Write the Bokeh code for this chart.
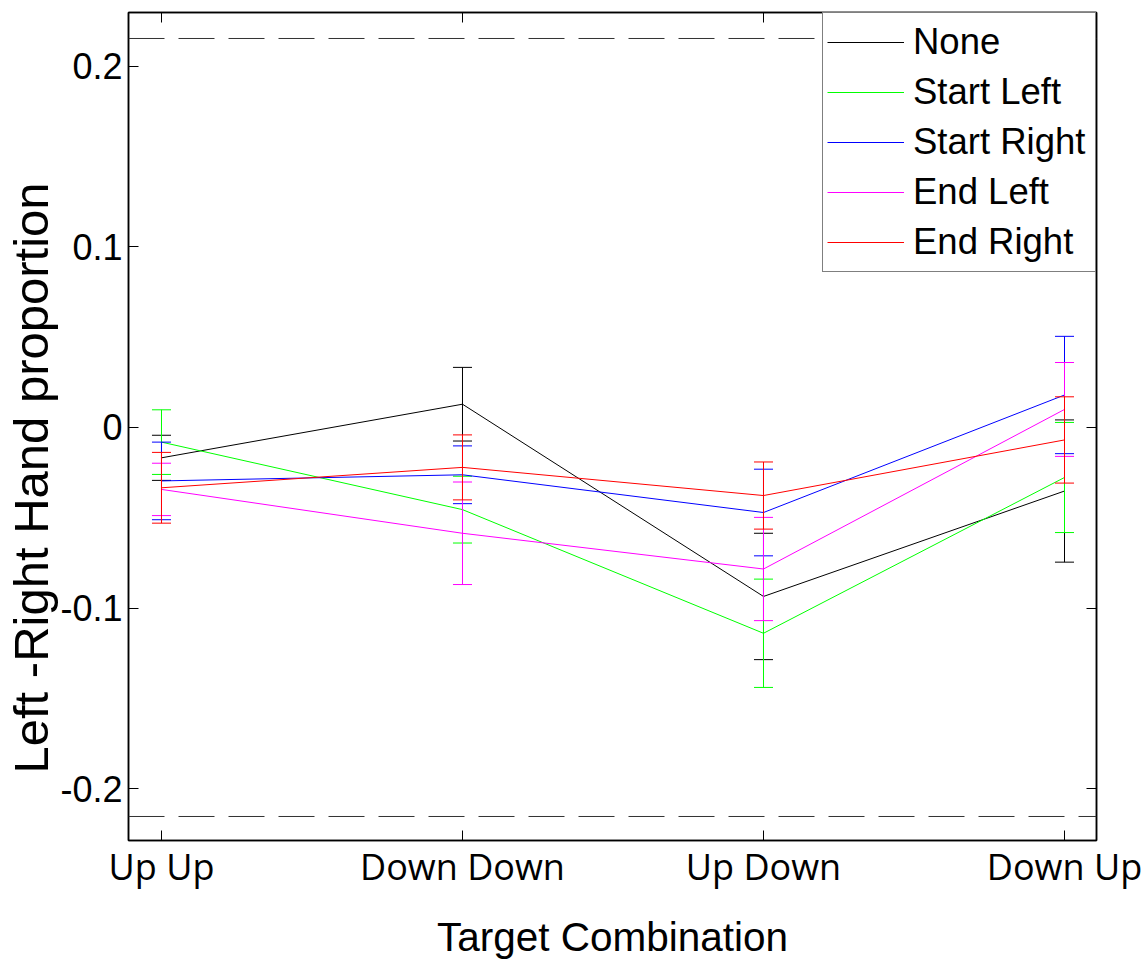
from bokeh.plotting import figure
from bokeh.models import LinearAxis, FixedTicker, Span, Range1d, Legend, LegendItem, Title
from bokeh.embed import file_html
from bokeh.resources import INLINE

categories = ["Up Up", "Down Down", "Up Down", "Down Up"]
series_names = ["None", "Start Left", "Start Right", "End Left", "End Right"]
series_colors = ["#000000", "#00ff00", "#0000ff", "#ff00ff", "#ff0000"]

none_mean = [-0.0168, 0.0129, -0.0936, -0.0352]
none_err = [0.0125, 0.0204, 0.035, 0.0394]
start_left_mean = [-0.0081, -0.0455, -0.114, -0.0277]
start_left_err = [0.0179, 0.0185, 0.030, 0.0305]
start_right_mean = [-0.0296, -0.0262, -0.0471, 0.0180]
start_right_err = [0.0215, 0.016, 0.024, 0.0325]
end_left_mean = [-0.0343, -0.0586, -0.0784, 0.010]
end_left_err = [0.0145, 0.0284, 0.0286, 0.026]
end_right_mean = [-0.0334, -0.0221, -0.0377, -0.0069]
end_right_err = [0.0196, 0.018, 0.0186, 0.0239]

limit_value = 0.2155
y_ticks = [-0.2, -0.1, 0, 0.1, 0.2]
y_tick_labels = ["-0.2", "-0.1", "0", "0.1", "0.2"]

means = [none_mean, start_left_mean, start_right_mean, end_left_mean, end_right_mean]
errs = [none_err, start_left_err, start_right_err, end_left_err, end_right_err]

xs = list(range(1, len(categories) + 1))
CAP_HALF = 0.0316  # half width of error-bar caps in x units (style)

p = figure(width=1146, height=962, output_backend="svg", toolbar_location=None,
           x_range=Range1d(0.8904, 4.1063), y_range=Range1d(-0.2288, 0.2299),
           min_border_left=128, min_border_right=50, min_border_top=12,
           min_border_bottom=122)
p.background_fill_color = "white"
p.border_fill_color = "white"
p.grid.visible = False
p.outline_line_color = "black"
p.outline_line_width = 1.5

# dashed limits
for v in (limit_value, -limit_value):
    p.add_layout(Span(location=v, dimension="width", line_color="#333333",
                      line_width=1, line_dash="36 14"))

items = []
for name, col, m, e in zip(series_names, series_colors, means, errs):
    lo = [mi - ei for mi, ei in zip(m, e)]
    hi = [mi + ei for mi, ei in zip(m, e)]
    p.segment(x0=xs, y0=lo, x1=xs, y1=hi, line_color=col, line_width=1)
    p.segment(x0=[x - CAP_HALF for x in xs], y0=lo, x1=[x + CAP_HALF for x in xs], y1=lo,
              line_color=col, line_width=1)
    p.segment(x0=[x - CAP_HALF for x in xs], y0=hi, x1=[x + CAP_HALF for x in xs], y1=hi,
              line_color=col, line_width=1)
    r = p.line(xs, m, line_color=col, line_width=1)
    items.append(LegendItem(label=name, renderers=[r]))

legend = Legend(items=items, location="top_right", margin=0, padding=4, spacing=0,
                glyph_width=77, glyph_height=50, label_height=50, label_standoff=9,
                label_width=178,
                label_text_font="Liberation Sans", label_text_font_size="36.5px",
                label_text_color="black",
                border_line_color="black", border_line_width=1,
                background_fill_color="white", background_fill_alpha=1.0)
p.add_layout(legend)

# x axis
xa = p.xaxis[0]
xa.ticker = FixedTicker(ticks=xs)
xa.major_label_overrides = {x: c for x, c in zip(xs, categories)}
xa.major_label_text_font = "Open Sans"
xa.major_label_text_font_size = "36px"
xa.major_label_text_color = "black"
xa.major_label_standoff = 1
xa.axis_label = "Target Combination"
xa.axis_label_text_font = "Liberation Sans"
xa.axis_label_text_font_size = "40.5px"
xa.axis_label_text_font_style = "normal"
xa.axis_label_text_color = "black"
xa.axis_label_standoff = 20
xa.minor_tick_line_color = None

ya = p.yaxis[0]
ya.ticker = FixedTicker(ticks=y_ticks)
ya.major_label_overrides = {t: l for t, l in zip(y_ticks, y_tick_labels)}
ya.major_label_text_font = "Liberation Sans"
ya.major_label_text_font_size = "36px"
ya.major_label_text_color = "black"
ya.major_label_standoff = 6
ya.minor_tick_line_color = None

for ax in (xa, ya):
    ax.major_tick_in = 10
    ax.major_tick_out = 0
    ax.major_tick_line_color = "black"
    ax.major_tick_line_width = 1
    ax.axis_line_color = "black"
    ax.axis_line_width = 1.5

top = LinearAxis(ticker=FixedTicker(ticks=xs), major_label_text_font_size="0px",
                 major_label_standoff=0, major_tick_in=10, major_tick_out=0,
                 minor_tick_line_color=None, axis_line_color="black", axis_line_width=1.5)
top.major_label_text_alpha = 0
right = LinearAxis(ticker=FixedTicker(ticks=y_ticks), major_label_text_font_size="0px",
                   major_label_standoff=0, major_tick_in=10, major_tick_out=0,
                   minor_tick_line_color=None, axis_line_color="black", axis_line_width=1.5)
right.major_label_text_alpha = 0
p.add_layout(top, "above")
p.add_layout(right, "right")

ylabel = Title(text="Left -Right Hand proportion", align="left", offset=67,
               text_font="Liberation Sans", text_font_size="49px",
               text_font_style="normal", text_color="black", standoff=0)
p.add_layout(ylabel, "left")

open("out.html", "w").write(file_html(p, INLINE))
